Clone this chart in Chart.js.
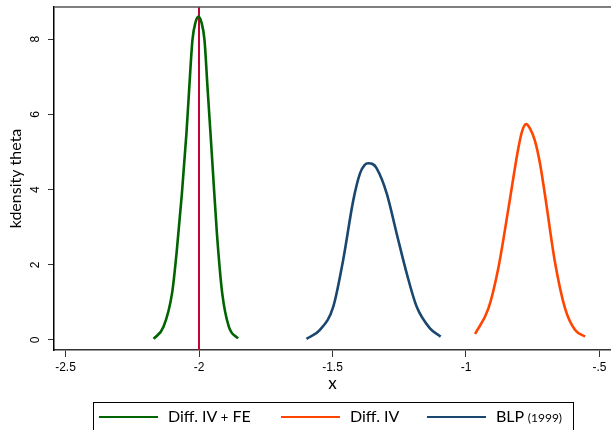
<!DOCTYPE html>
<html>
<head>
<meta charset="utf-8">
<script src="https://cdn.jsdelivr.net/npm/chart.js@4"></script>
<style>
html,body{margin:0;padding:0;background:#fff;overflow:hidden;}
#wrap{position:relative;width:611px;height:430px;}
#legend{position:absolute;left:93px;top:402px;width:481px;height:40px;border:1px solid #000;box-sizing:border-box;font-family:Lato,"Open Sans",sans-serif;font-size:16px;color:#000;}
.sw{position:absolute;top:13px;width:59px;height:0;border-top:2px solid;}
.lt{position:absolute;top:3px;white-space:nowrap;}
.sm{font-size:12px;}
</style>
</head>
<body>
<div id="wrap">
<canvas id="c" width="611" height="430"></canvas>
<div id="legend">
  <div class="sw" style="left:5px;border-color:#006400"></div><div class="lt" style="left:74px">Diff. IV <span style="font-size:13px">+</span> FE</div>
  <div class="sw" style="left:187px;border-color:#ff4500"></div><div class="lt" style="left:256px">Diff. IV</div>
  <div class="sw" style="left:333px;border-color:#1a476f"></div><div class="lt" style="left:402px">BLP <span class="sm">(1999)</span></div>
</div>
</div>
<script>
// ---- data ----
const seriesNames = ["Diff. IV + FE", "Diff. IV", "BLP (1999)"];
const feX = [-2.170,-2.133,-2.101,-2.083,-2.064,-2.047,-2.037,-2.0245,-2.013,-2.002,-1.991,-1.9795,-1.968,-1.957,-1.949,-1.933,-1.913,-1.888,-1.854];
const feY = [0.03,0.35,1.24,2.39,3.90,5.50,6.65,7.98,8.45,8.60,8.45,7.98,6.70,5.50,4.61,2.84,1.24,0.35,0.04];
const ivX = [-0.966,-0.916,-0.879,-0.841,-0.804,-0.790,-0.775,-0.760,-0.742,-0.723,-0.704,-0.667,-0.629,-0.592,-0.554];
const ivY = [0.16,0.84,1.91,3.50,5.10,5.55,5.74,5.62,5.30,4.70,3.85,2.08,0.84,0.27,0.09];
const blpX = [-1.5975,-1.547,-1.497,-1.460,-1.422,-1.397,-1.380,-1.366,-1.350,-1.335,-1.297,-1.260,-1.222,-1.185,-1.135,-1.095];
const blpY = [0.03,0.27,0.89,2.13,3.72,4.43,4.65,4.70,4.68,4.57,3.90,2.84,1.77,0.89,0.31,0.09];
const trueValue = -2;
const xTicks = [-2.5,-2,-1.5,-1,-0.5];
const xTickLabels = ["-2.5","-2","-1.5","-1","-.5"];
const yTicks = [0,2,4,6,8];
const yTickLabels = ["0","2","4","6","8"];
const xMin = -2.5431, xMax = -0.4569, yMin = -0.266, yMax = 8.856;

const pts = (xs, ys) => xs.map((x,i)=>({x:x,y:ys[i]}));

const yLabelPlugin = {
  id:'yLabels',
  afterDraw(chart){
    const ctx = chart.ctx, ys = chart.scales.y, a = chart.chartArea;
    ctx.save();
    ctx.font = '12px "Liberation Sans", Arial, sans-serif';
    ctx.fillStyle = '#000';
    ctx.textAlign = 'center';
    ctx.textBaseline = 'middle';
    yTicks.forEach((v,i)=>{
      const py = ys.getPixelForValue(v);
      ctx.save();
      ctx.translate(36, py);
      ctx.rotate(-Math.PI/2);
      ctx.fillText(yTickLabels[i], 0, 0);
      ctx.restore();
    });
    // top frame line
    ctx.strokeStyle = '#555';
    ctx.lineWidth = 1.5;
    ctx.beginPath();
    ctx.moveTo(a.left, a.top);
    ctx.lineTo(a.right, a.top);
    ctx.stroke();
    ctx.restore();
  }
};

new Chart(document.getElementById('c'), {
  type:'scatter',
  data:{
    datasets:[
      {label:seriesNames[0], data:pts(feX,feY), showLine:true, borderColor:'#006400', borderWidth:2.6, pointRadius:0, cubicInterpolationMode:'monotone'},
      {label:seriesNames[1], data:pts(ivX,ivY), showLine:true, borderColor:'#ff4500', borderWidth:2.6, pointRadius:0, cubicInterpolationMode:'monotone'},
      {label:seriesNames[2], data:pts(blpX,blpY), showLine:true, borderColor:'#1a476f', borderWidth:2.6, pointRadius:0, cubicInterpolationMode:'monotone'},
      {label:'true', data:[{x:trueValue,y:yMin},{x:trueValue,y:yMax}], showLine:true, borderColor:'#c10534', borderWidth:2, pointRadius:0}
    ]
  },
  options:{
    responsive:false,
    animation:false,
    layout:{padding:{left:0,top:7,right:0,bottom:0}},
    plugins:{legend:{display:false}, tooltip:{enabled:false}},
    scales:{
      x:{
        type:'linear', min:xMin, max:xMax,
        afterBuildTicks(s){ s.ticks = xTicks.map(v=>({value:v})); },
        afterFit(s){ s.height = 80; },
        ticks:{ callback:(v,i)=>xTickLabels[i], color:'#000', padding:3, maxRotation:0, autoSkip:false,
                font:{family:'"Liberation Sans", Arial, sans-serif', size:12} },
        grid:{ drawOnChartArea:false, drawTicks:true, tickLength:7, color:'#333' },
        border:{ display:true, color:'#333', width:1.5 },
        title:{ display:true, text:'x', color:'#000', font:{family:'Lato, sans-serif', size:17}, padding:{top:0,bottom:36} }
      },
      y:{
        type:'linear', min:yMin, max:yMax,
        afterBuildTicks(s){ s.ticks = yTicks.map(v=>({value:v})); },
        afterFit(s){ s.width = 54; },
        ticks:{ display:false },
        grid:{ drawOnChartArea:false, drawTicks:true, tickLength:6, color:'#333' },
        border:{ display:true, color:'#000', width:1.5 },
        title:{ display:true, text:'kdensity theta', color:'#000', font:{family:'Lato, sans-serif', size:16}, padding:{top:6,bottom:0} }
      }
    }
  },
  plugins:[yLabelPlugin]
});
</script>
</body>
</html>
